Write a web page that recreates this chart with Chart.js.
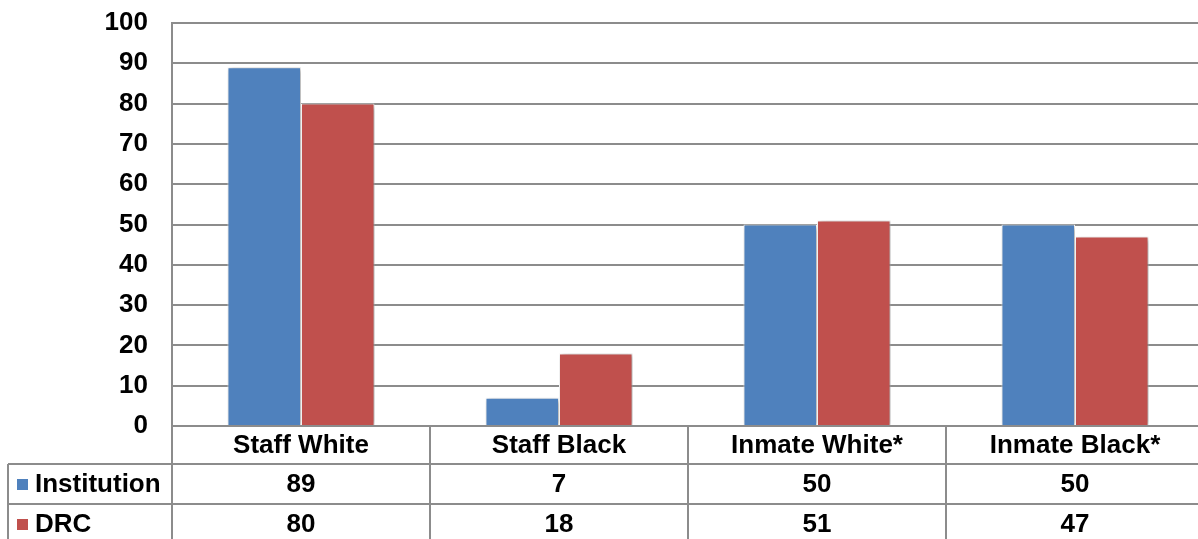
<!DOCTYPE html>
<html>
<head>
<meta charset="utf-8">
<script src="https://cdn.jsdelivr.net/npm/chart.js@4"></script>
<style>
  html, body { margin: 0; padding: 0; background: #fff; overflow: hidden; }
  #wrap { width: 1206px; height: 539px; }
</style>
</head>
<body>
<div id="wrap"><canvas id="myChart" width="1206" height="539"></canvas></div>
<script>
const categories = ['Staff White', 'Staff Black', 'Inmate White*', 'Inmate Black*'];
const institution = [89, 7, 50, 50];
const drc = [80, 18, 51, 47];
const yTicks = [0, 10, 20, 30, 40, 50, 60, 70, 80, 90, 100];

const blue = '#4F81BD';
const red = '#C0504D';
const lineColor = '#8c8c8c';
const fontFamily = '"Liberation Sans", Arial, sans-serif';
const font = 'bold 26px ' + fontFamily;

// soft shadow behind the bars
const barShadow = {
  id: 'barShadow',
  beforeDatasetsDraw(chart) {
    const ctx = chart.ctx;
    ctx.save();
    ctx.shadowColor = 'rgba(0,0,0,0.35)';
    ctx.shadowBlur = 5;
    ctx.shadowOffsetX = 2;
    ctx.shadowOffsetY = 1;
  },
  afterDatasetsDraw(chart) {
    chart.ctx.restore();
  }
};

// data table under the plot: category row, then one row per series
const dataTable = {
  id: 'dataTable',
  afterDraw(chart) {
    const ctx = chart.ctx;
    const area = chart.chartArea;
    const xScale = chart.scales.x;
    const colW = area.width / categories.length;
    const top = area.bottom;
    const rowH = [38, 40, 40];
    const row1 = top + rowH[0];
    const row2 = row1 + rowH[1];
    const row3 = row2 + rowH[2];
    const leftEdge = 8;

    ctx.save();
    ctx.strokeStyle = lineColor;
    ctx.lineWidth = 2;
    ctx.beginPath();
    // horizontal rules
    [row1, row2].forEach(y => {
      ctx.moveTo(leftEdge, y);
      ctx.lineTo(area.right, y);
    });
    // vertical rules
    ctx.moveTo(leftEdge, row1);
    ctx.lineTo(leftEdge, row3 + 10);
    for (let i = 0; i <= categories.length; i++) {
      const x = Math.round(area.left + i * colW);
      ctx.moveTo(x, top);
      ctx.lineTo(x, row3 + 10);
    }
    ctx.stroke();

    ctx.fillStyle = '#000';
    ctx.font = font;
    ctx.textAlign = 'center';
    ctx.textBaseline = 'middle';
    categories.forEach((c, i) => {
      const cx = xScale.getPixelForValue(i);
      ctx.fillText(c, cx, top + rowH[0] / 2 + 1);
      ctx.fillText(String(institution[i]), cx, row1 + rowH[1] / 2 + 1);
      ctx.fillText(String(drc[i]), cx, row2 + rowH[2] / 2 + 1);
    });

    // series names with colour keys
    const series = [
      { name: 'Institution', color: blue, y: row1 + rowH[1] / 2 },
      { name: 'DRC', color: red, y: row2 + rowH[2] / 2 }
    ];
    ctx.textAlign = 'left';
    series.forEach(s => {
      ctx.fillStyle = s.color;
      ctx.fillRect(17, Math.round(s.y - 5), 11, 11);
      ctx.fillStyle = '#000';
      ctx.fillText(s.name, 35, s.y + 1);
    });
    ctx.restore();
  }
};

new Chart(document.getElementById('myChart'), {
  type: 'bar',
  data: {
    labels: categories,
    datasets: [
      { label: 'Institution', data: institution, backgroundColor: blue, borderColor: '#fff', borderWidth: 1 },
      { label: 'DRC', data: drc, backgroundColor: red, borderColor: '#fff', borderWidth: 1 }
    ]
  },
  options: {
    responsive: false,
    animation: false,
    layout: { padding: { top: 23, bottom: 113, left: 0, right: 2 } },
    datasets: { bar: { categoryPercentage: 0.57, barPercentage: 1 } },
    plugins: { legend: { display: false }, tooltip: { enabled: false } },
    scales: {
      x: {
        ticks: { display: false },
        grid: { display: false },
        border: { display: false },
        afterFit(scale) { scale.height = 0; }
      },
      y: {
        min: 0,
        max: 100,
        afterBuildTicks(scale) { scale.ticks = yTicks.map(v => ({ value: v })); },
        afterFit(scale) {
          scale.width = 172;
          scale.paddingTop = 0;
          scale.paddingBottom = 0;
        },
        ticks: {
          padding: 24,
          color: '#000',
          font: { family: fontFamily, size: 26, weight: 'bold' }
        },
        grid: { color: lineColor, lineWidth: 2, drawTicks: false },
        border: { color: lineColor, width: 2 }
      }
    }
  },
  plugins: [barShadow, dataTable]
});
</script>
</body>
</html>
